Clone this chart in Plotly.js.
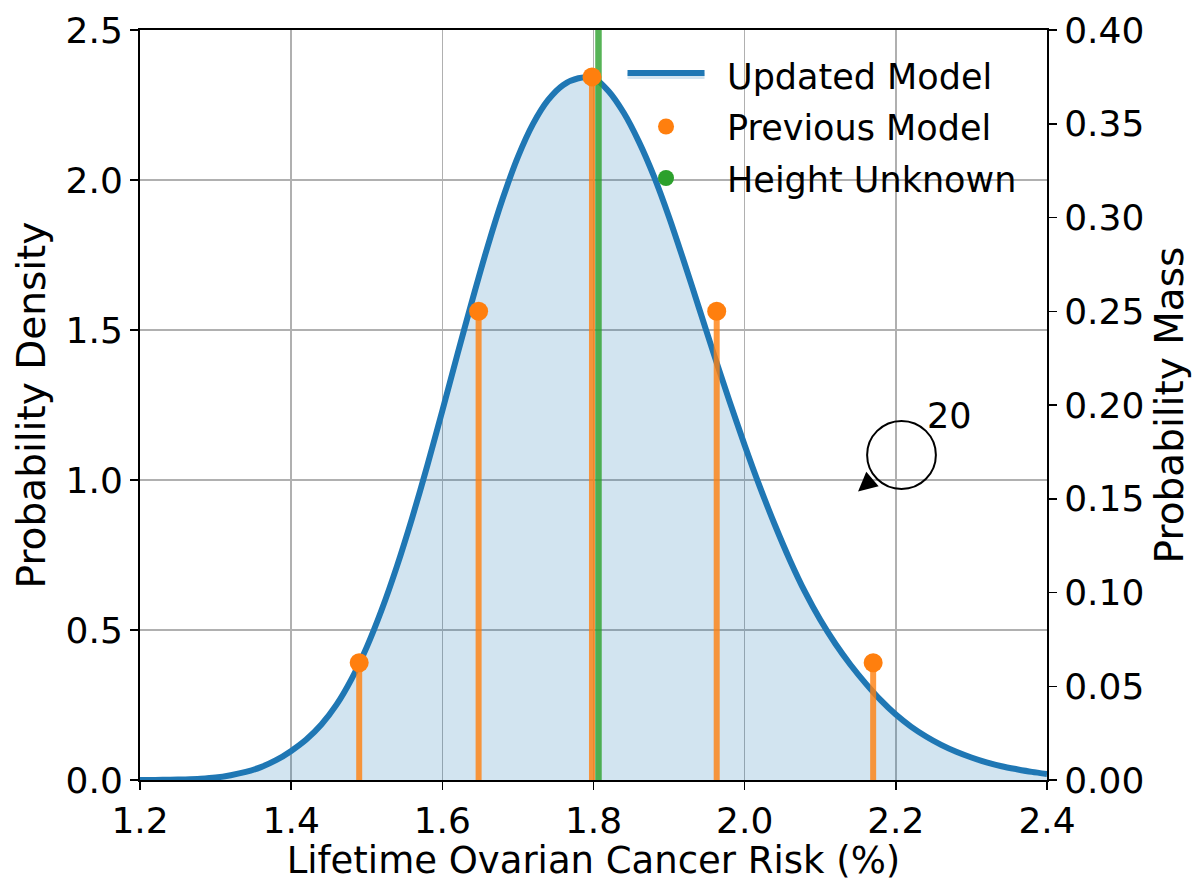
<!DOCTYPE html>
<html>
<head>
<meta charset="utf-8">
<script src="https://cdn.plot.ly/plotly-3.0.1.min.js"></script>
<style>html,body{margin:0;padding:0;background:#fff;}#chart{width:1200px;height:882px;}</style>
</head>
<body>
<div id="chart"></div>
<script>
// Updated Model: probability density vs lifetime risk (%)
const riskX = [1.20,1.22,1.24,1.26,1.28,1.30,1.32,1.34,1.36,1.38,1.40,1.42,1.44,1.46,1.48,1.50,1.52,1.54,1.56,1.58,1.60,1.62,1.64,1.66,1.68,1.70,1.72,1.74,1.76,1.78,1.80,1.82,1.84,1.86,1.88,1.90,1.92,1.94,1.96,1.98,2.00,2.02,2.04,2.06,2.08,2.10,2.12,2.14,2.16,2.18,2.20,2.22,2.24,2.26,2.28,2.30,2.32,2.34,2.36,2.38,2.40];
const density = [0.000,0.000,0.001,0.002,0.004,0.008,0.016,0.027,0.043,0.066,0.097,0.135,0.185,0.251,0.337,0.443,0.569,0.713,0.873,1.047,1.231,1.419,1.603,1.779,1.939,2.077,2.187,2.267,2.317,2.339,2.340,2.296,2.224,2.128,2.012,1.876,1.726,1.570,1.414,1.262,1.116,0.978,0.850,0.732,0.626,0.534,0.454,0.384,0.322,0.266,0.218,0.178,0.145,0.117,0.094,0.075,0.059,0.046,0.036,0.027,0.020];

// Previous Model: probability mass
const prevX = [1.490,1.648,1.798,1.963,2.170];
const prevMass = [0.0625,0.25,0.375,0.25,0.0625];

// Height Unknown (stem runs beyond the top of the chart)
const unknownX = [1.8066];
const unknownMass = [1.0];

const xTicks = [1.2,1.4,1.6,1.8,2.0,2.2,2.4];
const legendNames = ['Updated Model','Previous Model','Height Unknown'];

function stems(xs, ys) {
  const sx = [], sy = [];
  xs.forEach((x, i) => { sx.push(x, x, null); sy.push(0, ys[i], null); });
  return {sx, sy};
}
const ps = stems(prevX, prevMass);
const us = stems(unknownX, unknownMass);

const FONT = 'DejaVu Sans, sans-serif';
const PAD = '\u2002';

const traces = [
  {x: riskX, y: density, type: 'scatter', mode: 'lines', name: PAD + legendNames[0], legendgroup: 'a',
   line: {color: '#1f77b4', width: 6, shape: 'spline', smoothing: 0.8},
   fill: 'tozeroy', fillcolor: 'rgba(31,119,180,0.2)', yaxis: 'y', showlegend: true},
  {x: ps.sx, y: ps.sy, type: 'scatter', mode: 'lines', yaxis: 'y2', showlegend: false,
   line: {color: 'rgba(255,127,14,0.8)', width: 6}, hoverinfo: 'skip'},
  {x: us.sx, y: us.sy, type: 'scatter', mode: 'lines', yaxis: 'y2', showlegend: false,
   line: {color: 'rgba(44,160,44,0.8)', width: 6.5}, hoverinfo: 'skip'},
  {x: prevX, y: prevMass, type: 'scatter', mode: 'markers', name: PAD + legendNames[1], legendgroup: 'b', yaxis: 'y2',
   marker: {color: '#ff7f0e', size: 19}},
  {x: unknownX, y: unknownMass, type: 'scatter', mode: 'markers', name: PAD + legendNames[2], legendgroup: 'c', yaxis: 'y2',
   marker: {color: '#2ca02c', size: 19}, cliponaxis: true}
];

const axisCommon = {
  showline: true, linecolor: '#000', linewidth: 2,
  ticks: 'outside', ticklen: 8, tickwidth: 1.5, tickcolor: '#000',
  tickfont: {family: FONT, size: 36, color: '#000'},
  zeroline: false
};

const layout = {
  width: 1200, height: 882,
  margin: {l: 140, r: 153, t: 30, b: 102},
  paper_bgcolor: '#fff', plot_bgcolor: '#fff',
  font: {family: FONT, size: 35, color: '#000'},
  showlegend: true,
  legend: {x: 0.532, y: 0.979, xanchor: 'left', yanchor: 'top', bgcolor: 'rgba(0,0,0,0)',
           borderwidth: 0, font: {family: FONT, size: 35, color: '#000'}, itemwidth: 77, tracegroupgap: 3},
  xaxis: Object.assign({}, axisCommon, {
    range: [1.2, 2.4], tickvals: xTicks, tickformat: '.1f', mirror: true,
    showgrid: true, gridcolor: '#b0b0b0', gridwidth: 1.6,
    title: {text: 'Lifetime Ovarian Cancer Risk (%)', font: {family: FONT, size: 37}, standoff: 9}
  }),
  yaxis: Object.assign({}, axisCommon, {
    range: [0, 2.5], dtick: 0.5, tickformat: '.1f',
    showgrid: true, gridcolor: '#b0b0b0', gridwidth: 1.6,
    title: {text: 'Probability Density', font: {family: FONT, size: 39}, standoff: 8}
  }),
  yaxis2: Object.assign({}, axisCommon, {
    range: [0, 0.4], dtick: 0.05, tickformat: '.2f', overlaying: 'y', side: 'right',
    showgrid: false,
    title: {text: 'Probability Mass', font: {family: FONT, size: 39}, standoff: 12}
  }),
  shapes: [
    {type: 'circle', xref: 'x', yref: 'y', x0: 2.162, x1: 2.253, y0: 0.970, y1: 1.197,
     line: {color: '#000', width: 2}, fillcolor: 'rgba(0,0,0,0)'}
  ],
  annotations: [
    {x: 2.2705, y: 1.213, xref: 'x', yref: 'y', text: '20', showarrow: false,
     font: {family: FONT, size: 35, color: '#000'}},
    {x: 2.1500, y: 0.962, xref: 'x', yref: 'y', text: '', showarrow: true,
     ax: 14, ay: -12, arrowhead: 2, arrowsize: 1.9, arrowwidth: 2, arrowcolor: '#000'}
  ]
};

Plotly.newPlot('chart', traces, layout, {displayModeBar: false, staticPlot: true});
</script>
</body>
</html>
